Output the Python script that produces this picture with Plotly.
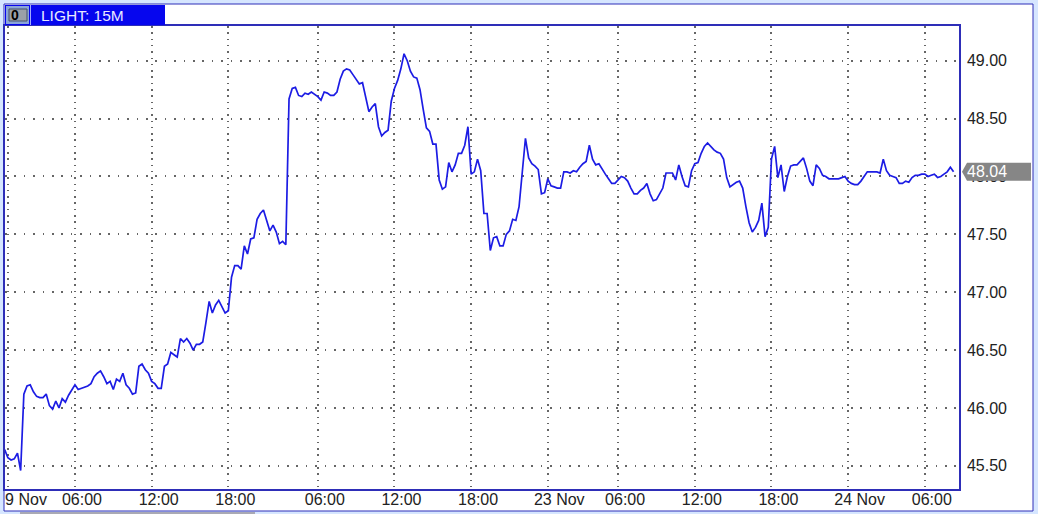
import plotly.graph_objects as go

W, H = 1038, 514
L, R, T, B = 5, 959, 26, 489

first_bar = -1
price = [
 45.64,45.57,45.55,45.56,45.61,45.46,46.12,46.19,46.20,46.14,46.10,46.09,46.09,46.12,46.02,45.99,46.06,46.00,46.08,46.05,
 46.11,46.15,46.20,46.16,46.17,46.18,46.19,46.21,46.27,46.30,46.32,46.27,46.21,46.23,46.16,46.25,46.23,46.30,46.20,46.17,
 46.12,46.13,46.36,46.38,46.33,46.30,46.23,46.21,46.17,46.17,46.36,46.38,46.48,46.46,46.44,46.60,46.57,46.60,46.56,46.50,
 46.55,46.55,46.57,46.74,46.92,46.82,46.89,46.93,46.87,46.82,46.84,47.13,47.23,47.23,47.20,47.40,47.33,47.46,47.47,47.63,
 47.68,47.71,47.62,47.53,47.58,47.52,47.42,47.44,47.41,48.67,48.76,48.77,48.70,48.69,48.72,48.71,48.73,48.71,48.69,48.66,
 48.73,48.72,48.70,48.70,48.73,48.84,48.91,48.93,48.92,48.88,48.84,48.80,48.81,48.68,48.56,48.60,48.63,48.43,48.35,48.38,
 48.40,48.65,48.76,48.83,48.93,49.06,49.00,48.91,48.86,48.85,48.75,48.58,48.42,48.39,48.28,48.28,47.97,47.89,47.91,48.12,
 48.04,48.10,48.20,48.20,48.27,48.43,48.02,48.04,48.15,48.05,47.68,47.68,47.36,47.47,47.48,47.40,47.40,47.50,47.53,47.63,
 47.62,47.74,48.06,48.33,48.16,48.11,48.09,48.06,47.85,47.86,47.98,47.92,47.91,47.90,47.90,48.04,48.04,48.03,48.05,48.04,
 48.08,48.11,48.13,48.27,48.15,48.10,48.11,48.06,48.02,47.98,47.94,47.94,47.97,48.00,47.99,47.96,47.90,47.85,47.85,47.88,
 47.90,47.94,47.85,47.79,47.80,47.85,47.90,48.03,48.03,48.03,47.97,48.10,48.00,47.92,47.91,48.05,48.11,48.12,48.20,48.26,
 48.29,48.26,48.23,48.21,48.20,48.15,47.99,47.91,47.93,47.95,47.96,47.90,47.74,47.60,47.52,47.56,47.62,47.77,47.48,47.56,
 48.15,48.26,47.99,48.10,47.87,48.00,48.09,48.10,48.10,48.13,48.16,48.07,47.96,47.92,48.10,48.07,48.01,48.00,47.98,47.98,
 47.98,47.98,47.99,48.00,47.96,47.94,47.93,47.93,47.96,48.00,48.04,48.04,48.04,48.04,48.03,48.15,48.05,48.01,48.00,47.99,
 47.94,47.94,47.96,47.95,47.99,48.01,48.01,48.02,48.02,48.00,48.01,48.02,47.99,48.00,48.02,48.04,48.08,48.04,
]
bars = list(range(first_bar, first_bar + len(price)))

time_tick_bars = [0, 21, 45, 69, 97, 121, 145, 169, 191, 215, 239, 263, 287]
time_tick_labels = ["\u00a0\u00a0\u00a0\u00a0\u00a09 Nov", "06:00", "12:00", "18:00", "06:00", "12:00", "18:00",
                    "\u00a0\u00a023 Nov", "06:00", "12:00", "18:00", "\u00a0\u00a024 Nov", "06:00"]
price_ticks = [45.5, 46.0, 46.5, 47.0, 47.5, 48.0, 48.5, 49.0]

title = "LIGHT: 15M"
x_range = [-0.9, 297.7]
y_range = [45.30, 49.30]

BLUE = "#2e2eb8"
FONT = "Liberation Sans"
px = lambda x: (x - L) / (R - L)
py = lambda y: (B - y) / (B - T)


def rect(x0, y0, x1, y1, fill, line=None, layer="above"):
    return dict(type="rect", xref="paper", yref="paper", x0=px(x0), x1=px(x1), y0=py(y0), y1=py(y1),
                fillcolor=fill, line=dict(color=line or fill, width=1 if line else 0), layer=layer)


fig = go.Figure(go.Scatter(x=bars, y=price, mode="lines", line=dict(color="#1c1ce4", width=1.7), hoverinfo="skip"))

last = price[-1]
half = 9 * (y_range[1] - y_range[0]) / (B - T)
flag = (f"M {px(962)} {last} L {px(967)} {last + half} L {px(1031)} {last + half} "
        f"L {px(1031)} {last - half} L {px(967)} {last - half} Z")

shapes = [
    rect(4, 4, 1033, 511, "#ffffff", BLUE, "below"),
    rect(20, 512, 255, 514, "#a9a9b4", None, "below"),
    rect(5, 5, 165, 25, "#0606ee"),
    rect(6, 6, 29, 24, "#8aa4d8"),
    rect(9, 9, 27, 21, "#9aa0a8", "#44506a"),
    rect(30, 5, 30.8, 25, "#c8d4ff"),
    dict(type="path", xref="paper", yref="y", path=flag, fillcolor="#868686", line=dict(width=0), layer="above"),
]

annotations = [
    dict(xref="paper", yref="paper", x=px(39), y=py(15.5), xanchor="left", yanchor="middle", showarrow=False,
         text=title, font=dict(family=FONT, size=15.5, color="#e8e8ff")),
    dict(xref="paper", yref="paper", x=px(15), y=py(15), xanchor="center", yanchor="middle", showarrow=False,
         text="<b>0</b>", font=dict(family=FONT, size=14, color="#000000")),
    dict(xref="paper", yref="y", x=px(967), y=last, xanchor="left", yanchor="middle", showarrow=False,
         text=f"{last:.2f}", font=dict(family=FONT, size=16, color="#ffffff"), xshift=-2),
]

fig.update_layout(
    width=W, height=H, autosize=False,
    margin=dict(l=L, r=W - R, t=T, b=H - B, pad=0, autoexpand=False),
    paper_bgcolor="#d6e6ff", plot_bgcolor="#ffffff",
    showlegend=False, shapes=shapes, annotations=annotations,
    font=dict(family=FONT, size=16, color="#222222"),
    xaxis=dict(range=x_range, tickmode="array", tickvals=time_tick_bars, ticktext=time_tick_labels, tickangle=0,
               showgrid=True, gridcolor="#666666", gridwidth=1.5, griddash="1.5px,4.8px", zeroline=False,
               showline=True, mirror=True, linecolor=BLUE, linewidth=1.5, ticks="", ticklabelshift=7,
               ticklabelstandoff=-5, ticklabeloverflow="allow"),
    yaxis=dict(range=y_range, side="right", tickmode="array", tickvals=price_ticks, tickformat=".2f",
               showgrid=True, gridcolor="#666666", gridwidth=1.5, griddash="1.5px,7.9px", zeroline=False,
               showline=True, mirror=True, linecolor=BLUE, linewidth=1.5, ticks="", ticklabelstandoff=3),
)

fig.write_html("out.html", config=dict(displayModeBar=False),
               post_script="document.body.style.margin='0';document.body.style.overflow='hidden';")
